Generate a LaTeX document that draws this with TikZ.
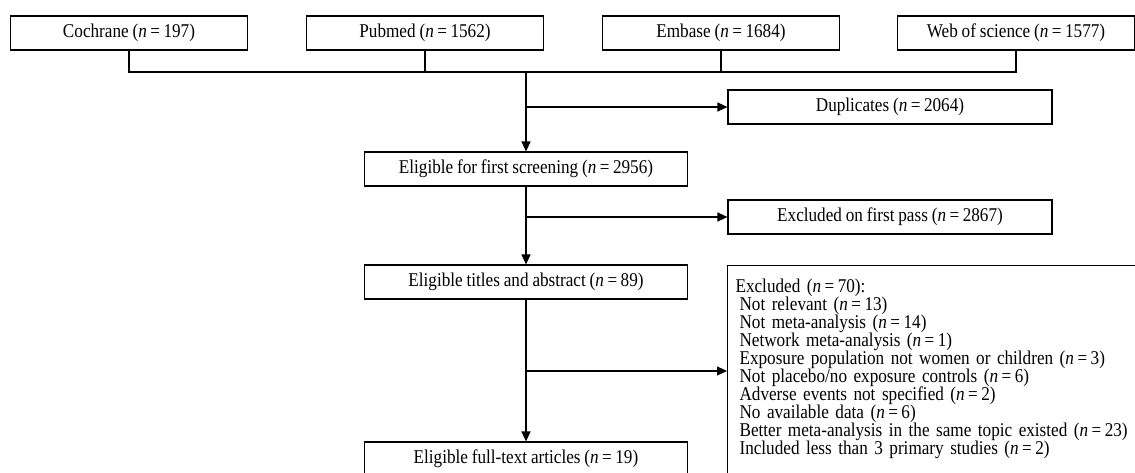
\documentclass[tikz,border=0pt]{standalone}
\usepackage{fontspec}
\setmainfont{Liberation Serif}[FakeStretch=0.88, WordSpace=0.9]
\usetikzlibrary{calc, positioning, arrows.meta}
\newcommand{\nv}[1]{(\textit{n}\hspace{3.5pt}=\hspace{3.5pt}#1)}
\newcommand{\ind}{\hspace*{4pt}}

\begin{document}
\begin{tikzpicture}[x=1pt, y=-1pt, font=\fontsize{19.5}{18.1}\selectfont,
    every node/.style={inner sep=0pt},
    box/.style={draw, line width=1.1pt, minimum height=34pt, align=center},
    src/.style={box, minimum width=237pt},
    mid/.style={box, minimum width=323pt},
    side/.style={box, minimum width=324pt},
    line/.style={line width=1.1pt},
    arr/.style={line, -{Triangle[length=10pt, width=9pt]}}]
  \path[use as bounding box, clip] (0,0) rectangle (1135,472);

  % databases
  \node[src] (coch) at (129,33)  {Cochrane \nv{197}};
  \node[src] (pub)  at (425,33)  {Pubmed \nv{1562}};
  \node[src] (emb)  at (721,33)  {Embase \nv{1684}};
  \node[src] (wos)  at (1016,33) {Web of science \nv{1577}};

  % main column
  \node[mid] (first)  at (526,169) {Eligible for first screening \nv{2956}};
  \node[mid] (titles) at (526,282) {Eligible titles and abstract \nv{89}};
  \node[mid] (full)   at (526,459) {Eligible full-text articles \nv{19}};

  % exclusions
  \node[side] (dup)  at (890,107) {Duplicates \nv{2064}};
  \node[side] (pass) at (890,217) {Excluded on first pass \nv{2867}};
  \node[draw, line, anchor=north west, text width=430pt, align=left,
        inner xsep=8pt, inner ysep=13pt] (excl) at (727,265) {%
    Excluded \nv{70}:\\
    \ind Not relevant \nv{13}\\
    \ind Not meta-analysis \nv{14}\\
    \ind Network meta-analysis \nv{1}\\
    \ind Exposure population not women or children \nv{3}\\
    \ind Not placebo/no exposure controls \nv{6}\\
    \ind Adverse events not specified \nv{2}\\
    \ind No available data \nv{6}\\
    \ind Better meta-analysis in the same topic existed \nv{23}\\
    \ind Included less than 3 primary studies \nv{2}\rule[-24pt]{0pt}{0pt}};

  \coordinate (join) at (526,72);
  \coordinate (b3) at (526,371);

  \draw[line] (coch.south) |- (join) -| (wos.south);
  \draw[line] (pub.south) -- (pub.south |- join);
  \draw[line] (emb.south) -- (emb.south |- join);
  \draw[arr] (join) -- (first);
  \draw[arr] (join |- dup) -- (dup);
  \draw[arr] (first) -- (titles);
  \draw[arr] (first |- pass) -- (pass);
  \draw[arr] (titles) -- (full);
  \draw[arr] (b3) -- (b3 -| excl.west);

\end{tikzpicture}
\end{document}
